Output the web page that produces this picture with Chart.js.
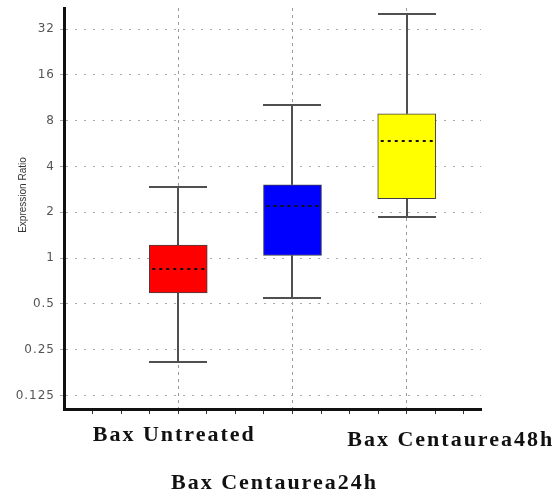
<!DOCTYPE html>
<html>
<head>
<meta charset="utf-8">
<script src="https://cdn.jsdelivr.net/npm/chart.js@4.4.1/dist/chart.umd.min.js"></script>
<style>
  html, body { margin: 0; padding: 0; background: #fff; }
  #wrap { width: 552px; height: 496px; position: relative; }
</style>
</head>
<body>
<div id="wrap"><canvas id="c"></canvas></div>
<script>
// Groups and their five-number summaries (expression ratio)
const categories = ['Bax Untreated', 'Bax Centaurea24h', 'Bax Centaurea48h'];
const positions = [1, 2, 3];
const whiskerLow = [0.207, 0.545, 1.86];
const quartile1 = [0.591, 1.04, 2.46];
const medians = [0.853, 2.21, 5.84];
const quartile3 = [1.22, 3.03, 8.87];
const whiskerHigh = [2.93, 10.1, 40.1];
const boxColors = ['#ff0000', '#0000ff', '#ffff00'];

// Log2 tick marks on the ratio axis
const yTickValues = [0.125, 0.25, 0.5, 1, 2, 4, 8, 16, 32];
const yTickLabels = ['0.125', '0.25', '0.5', '1', '2', '4', '8', '16', '32'];
const yTitle = 'Expression Ratio';

const boxData = positions.map((p, i) => ({ x: p, y: [quartile1[i], quartile3[i]] }));

// Whiskers, caps, dashed medians and the text around the axes
const boxPlotPlugin = {
  id: 'boxPlot',
  beforeDatasetsDraw(chart) {
    const { ctx, scales: { x, y } } = chart;
    const half = 29;
    ctx.save();
    ctx.strokeStyle = '#505050';
    ctx.lineWidth = 2;
    positions.forEach((p, i) => {
      const px = Math.round(x.getPixelForValue(p));
      const yLo = Math.round(y.getPixelForValue(whiskerLow[i]));
      const yHi = Math.round(y.getPixelForValue(whiskerHigh[i]));
      const yQ1 = y.getPixelForValue(quartile1[i]);
      const yQ3 = y.getPixelForValue(quartile3[i]);
      ctx.beginPath();
      ctx.moveTo(px, yQ3); ctx.lineTo(px, yHi);
      ctx.moveTo(px, yQ1); ctx.lineTo(px, yLo);
      ctx.moveTo(px - half, yHi); ctx.lineTo(px + half, yHi);
      ctx.moveTo(px - half, yLo); ctx.lineTo(px + half, yLo);
      ctx.stroke();
    });
    ctx.restore();
  },
  afterDatasetsDraw(chart) {
    const { ctx, scales: { x, y } } = chart;
    const half = 28;
    ctx.save();
    ctx.strokeStyle = '#111';
    ctx.lineWidth = 2;
    ctx.setLineDash([3, 4]);
    positions.forEach((p, i) => {
      const px = x.getPixelForValue(p);
      const ym = Math.round(y.getPixelForValue(medians[i]));
      ctx.beginPath();
      ctx.moveTo(px - half + 2, ym); ctx.lineTo(px + half, ym);
      ctx.stroke();
    });
    ctx.restore();
  },
  afterDraw(chart) {
    const { ctx, scales: { x, y } } = chart;
    ctx.save();
    // ratio tick labels
    ctx.fillStyle = '#555';
    ctx.font = '12px "DejaVu Sans", sans-serif';
    ctx.letterSpacing = '1px';
    ctx.textAlign = 'right';
    ctx.textBaseline = 'middle';
    yTickValues.forEach((v, i) => {
      ctx.fillText(yTickLabels[i], 55, y.getPixelForValue(v));
    });
    // axis title, rotated
    ctx.letterSpacing = '0px';
    ctx.fillStyle = '#333';
    ctx.font = '10px "Liberation Sans", Arial, sans-serif';
    ctx.save();
    ctx.translate(23, 195);
    ctx.rotate(-Math.PI / 2);
    ctx.textAlign = 'center';
    ctx.fillText(yTitle, 0, 0);
    ctx.restore();
    // staggered group names under the axis
    ctx.fillStyle = '#111';
    ctx.font = 'bold 22px "Liberation Serif", "Times New Roman", serif';
    ctx.letterSpacing = '2px';
    ctx.textAlign = 'center';
    ctx.textBaseline = 'middle';
    const offsets = [[-4, 435], [-18, 483], [44, 440]];
    categories.forEach((name, i) => {
      ctx.fillText(name, x.getPixelForValue(positions[i]) + offsets[i][0], offsets[i][1]);
    });
    ctx.restore();
  }
};

new Chart(document.getElementById('c'), {
  type: 'bar',
  data: {
    datasets: [{
      data: boxData,
      backgroundColor: boxColors,
      borderColor: '#404040',
      borderWidth: 1,
      borderSkipped: false,
      barThickness: 58
    }]
  },
  options: {
    responsive: true,
    maintainAspectRatio: false,
    animation: false,
    events: [],
    layout: { padding: { top: 8, right: 71, left: 0, bottom: 0 } },
    plugins: {
      legend: { display: false },
      tooltip: { enabled: false }
    },
    scales: {
      x: {
        type: 'linear',
        offset: false,
        min: 0,
        max: 3.65,
        afterBuildTicks(scale) {
          const t = [];
          for (let v = 0.25; v <= 3.65; v += 0.25) t.push({ value: v });
          scale.ticks = t;
        },
        afterFit(scale) { scale.height = 87; },
        ticks: { display: false },
        grid: {
          offset: false,
          color: ctx => (ctx.tick && Math.abs(ctx.tick.value - Math.round(ctx.tick.value)) < 1e-6) ? '#9a9a9a' : 'rgba(0,0,0,0)',
          lineWidth: 1,
          drawTicks: true,
          tickLength: 5,
          tickColor: '#333',
          tickWidth: 1
        },
        border: { display: true, color: '#111', width: 3, dash: [3, 4] }
      },
      y: {
        type: 'logarithmic',
        min: 0.102,
        max: 44,
        afterBuildTicks(scale) {
          scale.ticks = yTickValues.map(v => ({ value: v }));
        },
        afterFit(scale) { scale.width = 64; },
        ticks: { display: false },
        grid: {
          color: '#a8a8a8',
          lineWidth: 1,
          drawTicks: true,
          tickLength: 4,
          tickColor: '#aaa'
        },
        border: { display: true, color: '#111', width: 3, dash: [2, 7] }
      }
    }
  },
  plugins: [boxPlotPlugin]
});
</script>
</body>
</html>
